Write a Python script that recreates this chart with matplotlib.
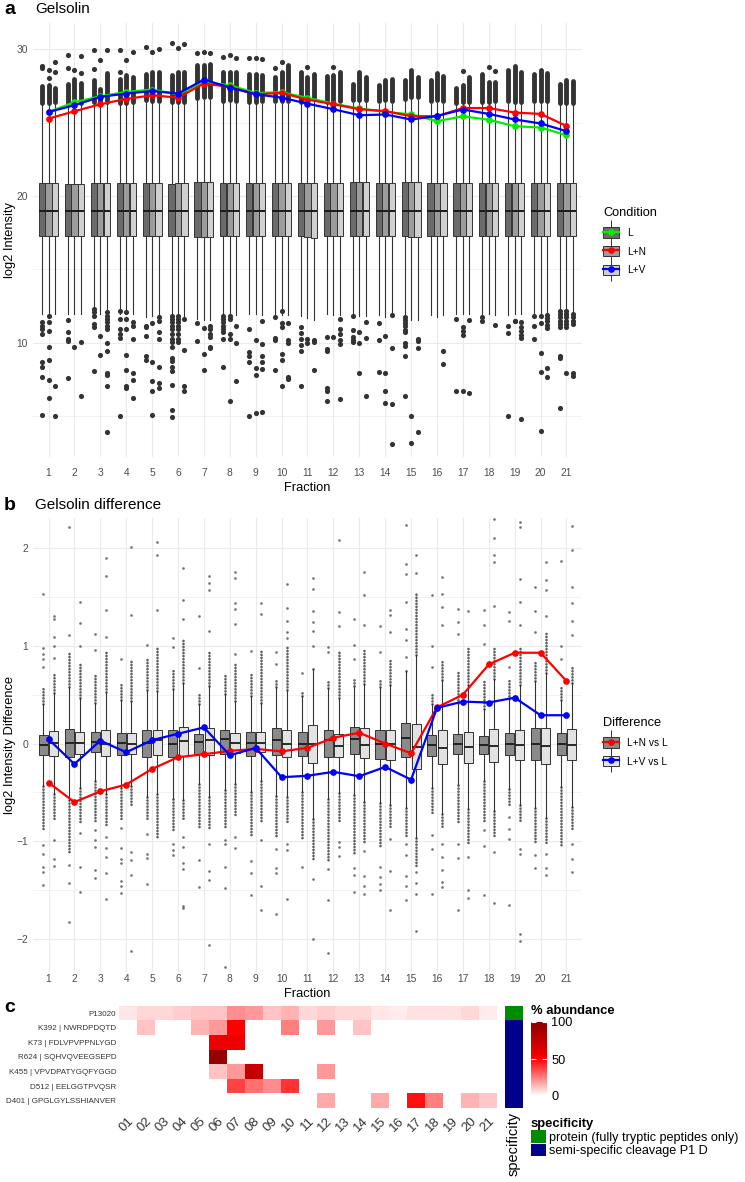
import numpy as np
import matplotlib
matplotlib.use("Agg")
import matplotlib.pyplot as plt
from matplotlib.patches import Rectangle, Patch
from matplotlib.lines import Line2D
from matplotlib.colors import LinearSegmentedColormap, ListedColormap
from matplotlib.legend_handler import HandlerTuple

plt.rcParams['font.family'] = ['Liberation Sans', 'DejaVu Sans']

# -----------------------------
# DATA  panel a (log2 intensity)
# -----------------------------
fractions = list(range(1, 22))
conditions = ["L", "L+N", "L+V"]

a_q1_L = [17.3, 17.3, 17.3, 17.3, 17.25, 17.25, 17.2, 17.25, 17.3, 17.3, 17.25, 17.3, 17.3, 17.3, 17.25, 17.3, 17.3, 17.3, 17.3, 17.3, 17.3]
a_q1_N = [17.3, 17.3, 17.3, 17.3, 17.25, 17.25, 17.2, 17.25, 17.3, 17.3, 17.2, 17.3, 17.3, 17.25, 17.2, 17.25, 17.3, 17.3, 17.3, 17.3, 17.3]
a_q1_V = [17.3, 17.3, 17.3, 17.3, 17.3, 17.25, 17.2, 17.3, 17.3, 17.3, 17.15, 17.3, 17.3, 17.3, 17.2, 17.3, 17.3, 17.3, 17.3, 17.3, 17.3]
a_med = [19.0] * 21
a_q3_L = [20.86, 20.85, 20.88, 20.86, 20.9, 20.85, 20.93, 20.88, 20.88, 20.9, 20.86, 20.88, 20.93, 20.9, 20.93, 20.9, 20.86, 20.88, 20.9, 20.9, 20.86]
a_q3_N = [20.86, 20.85, 20.88, 20.86, 20.88, 20.86, 20.95, 20.9, 20.88, 20.9, 20.88, 20.9, 20.95, 20.9, 20.97, 20.9, 20.88, 20.88, 20.88, 20.92, 20.86]
a_q3_V = [20.88, 20.85, 20.88, 20.88, 20.9, 20.86, 20.95, 20.9, 20.9, 20.9, 20.9, 20.9, 20.95, 20.9, 20.95, 20.9, 20.88, 20.9, 20.88, 20.92, 20.86]

# top of the dense column of high outliers
a_top_L = [27.48, 27.67, 27.89, 28.0, 28.34, 28.23, 28.91, 28.46, 28.34, 28.12, 28.46, 28.16, 27.67, 27.55, 27.89, 27.89, 27.4, 28.3, 28.62, 28.34, 27.62]
a_top_N = [27.55, 28.0, 27.33, 28.23, 28.46, 28.46, 28.91, 28.46, 28.34, 28.46, 28.12, 28.23, 28.46, 27.89, 28.57, 28.39, 27.55, 27.78, 28.9, 28.62, 27.94]
a_top_V = [27.4, 27.71, 28.39, 28.12, 28.46, 28.46, 29.03, 28.46, 28.23, 28.91, 28.34, 28.46, 28.12, 27.96, 28.12, 28.16, 28.12, 27.78, 28.46, 28.39, 27.85]

a_hi_L = [[28.9, 28.75], [29.59, 28.73], [29.93, 28.69], [29.96, 28.46], [30.14], [30.41], [29.75], [29.48], [29.41], [28.73],
          [], [], [], [], [], [], [], [], [], [], []]
a_hi_N = [[28.57, 28.05], [28.57], [29.3], [29.3], [29.82], [30.07], [29.82], [29.59], [29.41], [29.14],
          [28.8], [28.8], [], [], [], [], [28.5], [28.8], [], [], []]
a_hi_V = [[29.14, 28.46], [29.52, 28.39], [29.96], [29.82], [30.03], [30.37], [29.78], [29.41], [29.37], [],
          [], [], [], [], [], [], [], [28.5], [], [], []]

a_lo_L = [[11.38, 11.16, 10.93, 10.59, 8.71, 8.32, 7.64, 5.08],
          [11.56, 10.75, 10.25, 10.14, 7.57],
          [12.29, 12.06, 11.84, 11.27, 11.09, 8.05],
          [12.18, 11.61, 10.93, 10.59, 10.29, 5.03],
          [11.16, 11.04, 10.48, 9.12, 8.82],
          [11.84, 11.61, 11.38, 11.16, 10.93, 10.59, 10.25, 10.02, 9.68, 8.96, 8.78, 8.32, 8.05, 7.14, 5.42, 4.92],
          [11.32, 10.14],
          [11.84, 11.61, 11.38, 11.16, 10.93, 10.7, 10.25, 8.37],
          [10.93, 9.34, 9.12, 8.66, 4.97],
          [11.72, 10.29, 10.18, 8.14],
          [11.09, 10.63, 10.25, 9.84, 9.41, 7.01],
          [10.41, 9.57, 9.41, 6.92, 6.73, 6.05],
          [11.84, 10.86, 10.36, 10.18, 10.07],
          [11.32, 10.2, 7.98],
          [11.72, 11.54, 11.34, 11.16, 10.88, 10.7, 9.95, 9.8, 9.07, 6.39],
          [],
          [11.61, 6.73],
          [11.72, 11.5],
          [11.11, 10.63, 4.99],
          [11.79, 11.11, 10.25],
          [12.18, 11.95, 11.72, 11.5, 11.27, 11.04, 9.07, 8.96, 5.53]]
a_lo_N = [[11.84, 11.38, 10.77, 9.68, 8.82, 7.46, 6.24],
          [9.73],
          [10.48, 9.18],
          [12.06, 11.61, 10.93, 9.18, 8.16, 7.07, 6.92],
          [11.32, 8.66, 7.37, 6.69, 5.08],
          [11.84, 11.61, 11.38, 11.16, 10.93, 10.59, 10.25, 10.02],
          [11.0, 9.23, 8.16],
          [11.84, 11.61, 10.59, 10.25, 6.05],
          [10.18, 8.28, 7.82, 5.19],
          [12.18, 11.32, 11.09, 9.23, 8.82, 7.01],
          [10.25, 9.95],
          [10.41],
          [10.7, 9.95, 7.91],
          [10.48, 7.91, 6.73, 5.9],
          [5.03, 3.15],
          [],
          [11.04, 10.77, 10.52, 6.73],
          [],
          [11.5, 11.45],
          [11.79, 11.32, 9.3, 7.98, 3.95],
          [12.18, 11.95, 11.72, 11.5, 11.27, 11.04, 7.91]]
a_lo_V = [[7.07, 5.03],
          [10.07, 6.35],
          [12.06, 11.84, 11.61, 11.38, 11.16, 10.93, 9.95, 9.41, 7.91, 7.82, 7.07, 3.92],
          [11.38, 11.16, 10.25, 7.91, 7.46, 6.24],
          [11.77, 11.5, 10.7, 10.25, 8.37, 7.23, 6.92],
          [11.61, 9.5, 7.07, 6.69],
          [11.16, 10.93, 10.59, 10.36, 9.73, 9.64],
          [11.16, 9.95, 7.41],
          [11.5, 9.91, 9.12, 8.66, 8.21, 5.26],
          [11.32, 10.18, 9.95, 7.64, 7.53],
          [10.18, 10.02, 8.1],
          [11.61, 10.93, 10.59, 10.18, 9.91, 6.17],
          [11.38, 10.29, 6.39],
          [11.9, 9.61, 5.83, 3.11],
          [10.25, 10.14, 9.61, 3.92],
          [9.43, 8.55],
          [11.54, 6.55],
          [11.22],
          [11.38, 11.04, 10.77, 10.54, 10.32, 4.81],
          [11.9, 11.68, 11.45, 11.22, 11.0, 8.25, 7.69],
          [11.95, 11.72, 11.5, 11.27, 7.91, 7.75]]

# summary lines (panel a)
line_L = [25.73, 26.4, 26.8, 27.1, 27.26, 26.94, 27.78, 27.55, 27.03, 27.08, 26.69, 26.3, 25.97, 25.73, 25.58, 25.1, 25.44, 25.2, 24.76, 24.67, 24.15]
line_N = [25.28, 25.78, 26.26, 26.62, 26.87, 26.71, 27.67, 27.44, 26.94, 27.03, 26.58, 26.26, 25.92, 25.8, 25.44, 25.44, 26.0, 26.0, 25.69, 25.6, 24.78]
line_V = [25.73, 26.19, 26.76, 26.99, 27.16, 26.99, 27.94, 27.4, 26.94, 26.71, 26.3, 25.92, 25.51, 25.56, 25.22, 25.46, 25.9, 25.6, 25.22, 24.95, 24.42]

# -----------------------------
# DATA  panel b (log2 difference)
# -----------------------------
differences = ["L+N vs L", "L+V vs L"]

b_q1_N = [-0.12, -0.143, -0.085, -0.116, -0.137, -0.143, -0.11, -0.11, -0.13, -0.12, -0.126, -0.143, -0.11, -0.16, -0.137, -0.13, -0.11, -0.11, -0.12, -0.17, -0.113]
b_med_N = [-0.01, 0.007, 0.017, 0.01, 0.01, 0.0, 0.017, 0.044, 0.007, 0.034, 0.0, 0.034, 0.05, 0.0, 0.058, -0.01, 0.0, -0.01, -0.007, 0.0, -0.007]
b_q3_N = [0.09, 0.147, 0.116, 0.11, 0.137, 0.137, 0.096, 0.137, 0.116, 0.16, 0.12, 0.143, 0.17, 0.137, 0.215, 0.085, 0.10, 0.075, 0.11, 0.154, 0.11]
b_q1_V = [-0.13, -0.11, -0.123, -0.11, -0.12, -0.13, -0.12, -0.10, -0.085, -0.137, -0.195, -0.143, -0.147, -0.164, -0.263, -0.205, -0.195, -0.188, -0.17, -0.205, -0.17]
b_med_V = [0.007, 0.007, -0.007, -0.007, 0.034, 0.027, 0.034, 0.01, 0.007, 0.0, 0.0, -0.024, -0.01, 0.0, -0.034, -0.044, -0.04, -0.024, -0.017, -0.024, -0.017]
b_q3_V = [0.13, 0.12, 0.137, 0.11, 0.143, 0.17, 0.164, 0.113, 0.116, 0.137, 0.188, 0.10, 0.154, 0.143, 0.205, 0.137, 0.123, 0.15, 0.137, 0.164, 0.147]

b_top_N = [0.59, 0.94, 0.70, 0.63, 0.87, 0.77, 0.51, 0.70, 0.73, 0.66, 0.53, 0.66, 0.66, 0.66, 0.77, 0.53, 0.73, 0.66, 0.66, 0.83, 0.59]
b_top_V = [0.73, 0.82, 0.95, 0.87, 1.0, 1.06, 0.94, 0.83, 0.97, 1.0, 0.77, 0.94, 0.97, 0.87, 1.55, 0.87, 1.0, 1.0, 1.0, 1.14, 0.8]
b_hi_N = [[0.78, 0.87, 0.92, 0.98, 1.53], [1.11, 2.22], [0.96, 1.12], [0.87], [1.01], [0.99, 1.08], [0.77, 1.31],
          [], [0.95], [0.81, 0.94], [0.72], [0.94, 0.99], [0.87, 1.01, 1.28], [0.94, 1.2],
          [0.89, 1.06, 1.17, 1.45, 1.74, 1.84, 2.24], [0.78, 1.0, 1.52], [1.12, 1.24, 1.38], [1.02, 1.21, 1.37],
          [0.78, 1.26, 1.35], [1.14, 1.36, 1.6], [0.87, 1.0, 1.87]]
b_hi_V = [[0.88, 1.0, 1.09, 1.28, 1.31], [1.0, 1.23, 1.45], [1.09, 1.37, 1.72, 1.9], [1.32, 2.01], [1.37, 1.93, 2.06],
          [1.28, 1.47, 1.8], [1.15, 1.57, 1.64, 1.72], [0.92, 1.22, 1.38, 1.44, 1.7, 1.76], [1.33, 1.44],
          [1.08, 1.14, 1.26, 1.39, 1.63], [1.0, 1.15, 1.24, 1.36, 1.58, 1.7], [1.2, 1.35, 2.08], [1.21, 1.52, 1.76],
          [1.14, 1.32, 1.37], [1.75, 1.93], [1.21, 1.4, 1.53, 1.71], [1.36], [1.41, 1.86, 1.93, 2.11, 2.3],
          [1.21, 1.45, 1.69, 2.22, 2.27], [1.31, 1.57, 1.67, 1.86], [1.11, 1.26, 1.44, 1.6, 1.98, 2.23]]

b_bot_N = [-0.89, -1.13, -0.79, -0.79, -0.79, -0.89, -0.85, -0.85, -0.96, -0.96, -0.99, -1.2, -1.13, -1.06, -0.96, -0.72, -0.82, -0.79, -0.65, -1.03, -1.06]
b_bot_V = [-0.79, -0.82, -0.85, -0.65, -0.96, -0.79, -0.89, -0.75, -0.79, -0.82, -1.2, -0.79, -1.03, -0.85, -1.26, -0.87, -1.03, -0.96, -0.79, -1.03, -0.89]
b_lo_N = [[-1.04, -1.13, -1.26, -1.32, -1.45], [-1.24, -1.43, -1.83], [-0.89, -0.99, -1.06, -1.3, -1.38],
          [-0.86, -1.07, -1.18, -1.22, -1.41, -1.46, -1.53], [-0.93, -1.13, -1.17, -1.44], [-1.03, -1.09, -1.14],
          [-1.19, -1.47], [-0.99, -1.03, -1.26, -1.48, -2.29], [-1.2, -1.33, -1.55], [-1.08, -1.27, -1.33, -1.75],
          [-1.26], [-1.28, -1.6, -2.15], [-1.27, -1.35, -1.52], [-1.26, -1.37, -1.44, -1.5],
          [-1.03, -1.14, -1.36, -1.46, -1.6], [-0.94, -1.08, -1.54], [-1.03, -1.17, -1.7], [-0.89, -1.05, -1.55],
          [-0.75, -0.88, -0.98, -1.65], [-1.14, -1.27], []]
b_lo_V = [[-0.99, -1.18, -1.25], [-0.92, -1.26, -1.52], [-0.96, -1.07, -1.16, -1.33, -1.59], [-1.11, -1.19, -1.35, -2.12],
          [], [-0.96, -1.06, -1.22, -1.28, -1.66, -1.68], [-1.03, -1.31, -1.4, -2.06], [-0.96, -1.07],
          [-0.99, -1.46, -1.71], [-1.03, -1.09, -1.59], [-1.39, -2.0], [-1.01, -1.06, -1.15],
          [-1.1, -1.36, -1.46, -1.54], [-0.98, -1.31, -1.7], [-1.32, -1.43, -1.54, -1.92],
          [-1.03, -1.16, -1.3, -1.42, -1.47], [-1.16, -1.5, -1.58], [-1.11, -1.63], [-1.08, -1.13, -1.95, -2.02],
          [-1.13, -1.27, -1.35], [-1.03, -1.18, -1.32]]

diff_N = [-0.40, -0.60, -0.49, -0.42, -0.26, -0.14, -0.11, -0.075, -0.055, -0.08, -0.045, 0.06, 0.11, 0.0, -0.10, 0.37, 0.50, 0.81, 0.93, 0.93, 0.64]
diff_V = [0.045, -0.21, 0.03, -0.09, 0.035, 0.10, 0.165, -0.12, -0.045, -0.345, -0.33, -0.29, -0.335, -0.24, -0.37, 0.365, 0.43, 0.42, 0.47, 0.29, 0.29]

# -----------------------------
# DATA  panel c (heatmap)
# -----------------------------
hm_rows = ["P13020", "K392 | NWRDPDQTD", "K73 | FDLVPVPPNLYGD", "R624 | SQHVQVEEGSEPD",
           "K455 | VPVDPATYGQFYGGD", "D512 | EELGGTPVQSR", "D401 | GPGLGYLSSHIANVER"]
hm_cols = ["01", "02", "03", "04", "05", "06", "07", "08", "09", "10", "11",
           "12", "13", "14", "15", "16", "17", "18", "19", "20", "21"]
nan = np.nan
ab_P13020 = [5, 8, 8, 10, 12, 12, 22, 20, 12, 15, 8, 10, 8, 8, 5, 4, 6, 6, 6, 8, 4]
ab_K392 = [nan, 12, nan, nan, 15, 20, 50, nan, nan, 25, nan, 20, nan, 12, nan, nan, nan, nan, nan, nan, nan]
ab_K73 = [nan, nan, nan, nan, nan, 58, 58, nan, nan, nan, nan, nan, nan, nan, nan, nan, nan, nan, nan, nan, nan]
ab_R624 = [nan, nan, nan, nan, nan, 95, nan, nan, nan, nan, nan, nan, nan, nan, nan, nan, nan, nan, nan, nan, nan]
ab_K455 = [nan, nan, nan, nan, nan, 12, 20, 75, nan, nan, nan, 20, nan, nan, nan, nan, nan, nan, nan, nan, nan]
ab_D512 = [nan, nan, nan, nan, nan, nan, 37, 28, 23, 40, nan, nan, nan, nan, nan, nan, nan, nan, nan, nan, nan]
ab_D401 = [nan, nan, nan, nan, nan, nan, nan, nan, nan, nan, nan, 17, nan, nan, 17, nan, 47, 25, nan, 15, 11]
spec_rows = [0, 1, 1, 1, 1, 1, 1]
spec_labels = ["protein (fully tryptic peptides only)", "semi-specific cleavage P1 D"]

# -----------------------------
# FIGURE
# -----------------------------
W, H = 745, 1182
fig = plt.figure(figsize=(W / 100, H / 100), dpi=100)


def px_axes(l, t, r, b):
    return fig.add_axes([l / W, 1 - b / H, (r - l) / W, (b - t) / H])


def fy(y):
    return 1 - y / H


TICK_C = "#4D4D4D"
GRID_C = "#EBEBEB"
EDGE_C = "#333333"


def style_axes(ax, yticks, yminor, xpad):
    for s in ax.spines.values():
        s.set_visible(False)
    ax.set_xlim(0.4, 21.6)
    ax.set_xticks(fractions)
    ax.set_xticklabels([str(f) for f in fractions])
    ax.set_yticks(yticks)
    ax.set_yticks(yminor, minor=True)
    ax.grid(which="major", color=GRID_C, lw=0.85)
    ax.grid(which="minor", axis="y", color=GRID_C, lw=0.45)
    ax.set_axisbelow(True)
    ax.tick_params(which="both", length=0, labelsize=7.4, labelcolor=TICK_C)
    ax.tick_params(axis="x", pad=xpad)
    ax.tick_params(axis="y", pad=3.5)
    ax.set_xlabel("Fraction", fontsize=9.3, labelpad=2.5)


def boxstats(q1, med, q3):
    iqr = q3 - q1
    return dict(q1=q1, med=med, q3=q3, whislo=q1 - 1.5 * iqr, whishi=q3 + 1.5 * iqr, fliers=[])


# ---- panel a ----
ax_a = px_axes(33, 23, 582, 457)
style_axes(ax_a, [10, 20, 30], [5, 15, 25], 8)
ax_a.set_ylim(2.2, 31.8)
ax_a.set_ylabel("log2 Intensity", fontsize=9.3)
ax_a.yaxis.set_label_coords(-17 / 549, 0.5)

a_fill = ["#6b6b6b", "#9c9c9c", "#d0d0d0"]
a_off = [-0.25, 0.0, 0.25]
a_q1 = [a_q1_L, a_q1_N, a_q1_V]
a_q3 = [a_q3_L, a_q3_N, a_q3_V]
a_top = [a_top_L, a_top_N, a_top_V]
a_hi = [a_hi_L, a_hi_N, a_hi_V]
a_lo = [a_lo_L, a_lo_N, a_lo_V]

for k in range(3):
    stats = [boxstats(a_q1[k][i], a_med[i], a_q3[k][i]) for i in range(21)]
    pos = [f + a_off[k] for f in fractions]
    ax_a.bxp(stats, positions=pos, widths=0.24, showfliers=False, showcaps=False, patch_artist=True,
             boxprops=dict(facecolor=a_fill[k], edgecolor=EDGE_C, lw=0.7),
             whiskerprops=dict(color=EDGE_C, lw=0.8),
             medianprops=dict(color="#1a1a1a", lw=1.4), manage_ticks=False)
    for i in range(21):
        x = pos[i]
        ax_a.plot([x, x], [stats[i]["whishi"] + 0.15, a_top[k][i]], color=EDGE_C, lw=3.5,
                  solid_capstyle="round", zorder=3)
        if a_hi[k][i]:
            ax_a.plot([x] * len(a_hi[k][i]), a_hi[k][i], "o", ms=3.7, color=EDGE_C, mec="none", zorder=3)
        if a_lo[k][i]:
            ax_a.plot([x] * len(a_lo[k][i]), a_lo[k][i], "o", ms=3.7, color=EDGE_C, mec="none", zorder=3)

a_line_colors = ["#00EE00", "#FF0000", "#0000FF"]
for vals, c in zip([line_L, line_N, line_V], a_line_colors):
    ax_a.plot(fractions, vals, "-o", color=c, lw=1.6, ms=3.8, zorder=5)

# ---- panel b ----
ax_b = px_axes(33, 518, 582, 972)
style_axes(ax_b, [-2, -1, 0, 1, 2], [-1.5, -0.5, 0.5, 1.5], 1.5)
ax_b.set_ylim(-2.34, 2.31)
ax_b.set_ylabel("log2 Intensity Difference", fontsize=9.3)
ax_b.yaxis.set_label_coords(-17 / 549, 0.5)

b_fill = ["#8a8a8a", "#e2e2e2"]
b_off = [-0.2, 0.2]
b_q1 = [b_q1_N, b_q1_V]
b_med = [b_med_N, b_med_V]
b_q3 = [b_q3_N, b_q3_V]
b_top = [b_top_N, b_top_V]
b_bot = [b_bot_N, b_bot_V]
b_hi = [b_hi_N, b_hi_V]
b_lo = [b_lo_N, b_lo_V]
PT_C = "#4f4f4f"

for k in range(2):
    stats = [boxstats(b_q1[k][i], b_med[k][i], b_q3[k][i]) for i in range(21)]
    pos = [f + b_off[k] for f in fractions]
    for i in range(21):
        x = pos[i]
        ax_b.plot([x, x], [stats[i]["whishi"], b_top[k][i]], color=PT_C, lw=1.9, alpha=0.9,
                  linestyle=(0, (0.05, 1.1)), dash_capstyle="round", zorder=1.5)
        ax_b.plot([x, x], [stats[i]["whislo"], b_bot[k][i]], color=PT_C, lw=1.9, alpha=0.9,
                  linestyle=(0, (0.05, 1.1)), dash_capstyle="round", zorder=1.5)
        pts = b_hi[k][i] + b_lo[k][i]
        if pts:
            ax_b.plot([x] * len(pts), pts, "o", ms=1.9, color=PT_C, alpha=0.8, mec="none", zorder=1.5)
    ax_b.bxp(stats, positions=pos, widths=0.35, showfliers=False, showcaps=False, patch_artist=True,
             boxprops=dict(facecolor=b_fill[k], edgecolor=EDGE_C, lw=0.7),
             whiskerprops=dict(color=EDGE_C, lw=0.8),
             medianprops=dict(color="#1a1a1a", lw=1.3), manage_ticks=False)

b_line_colors = ["#FF0000", "#0000FF"]
for vals, c in zip([diff_N, diff_V], b_line_colors):
    ax_b.plot(fractions, vals, "-o", color=c, lw=1.6, ms=3.8, zorder=5)

# ---- legends a / b ----
def box_handles(fills, colors):
    hs = []
    for fc, c in zip(fills, colors):
        hs.append((Line2D([], [], color=EDGE_C, marker="|", ms=17, mew=0.7, linestyle="none"),
                   Rectangle((0, 0), 1, 1, facecolor=fc, edgecolor=EDGE_C, lw=0.7),
                   Line2D([], [], color=c, lw=1.6, marker="o", ms=3.8)))
    return hs

leg_kw = dict(loc="upper left", frameon=False, handler_map={tuple: HandlerTuple(ndivide=1, pad=0)},
              fontsize=7.3, title_fontsize=9.2, handlelength=1.6, handleheight=1.2, labelspacing=0.8,
              handletextpad=0.8, alignment="left")
leg_a = fig.legend(box_handles(a_fill, a_line_colors), conditions, title="Condition",
                   bbox_to_anchor=(594 / W, fy(198)), **leg_kw)
leg_b = fig.legend(box_handles(b_fill, b_line_colors), differences, title="Difference",
                   bbox_to_anchor=(594 / W, fy(708)), **leg_kw)

# ---- titles ----
fig.text(4 / W, fy(9), "a", fontsize=14, fontweight="bold", va="center", ha="left")
fig.text(35 / W, fy(9), "Gelsolin", fontsize=11, va="center", ha="left")
fig.text(4 / W, fy(505), "b", fontsize=14, fontweight="bold", va="center", ha="left")
fig.text(35 / W, fy(505), "Gelsolin difference", fontsize=11, va="center", ha="left")
fig.text(4 / W, fy(1007), "c", fontsize=14, fontweight="bold", va="center", ha="left")

# ---- panel c ----
ax_c = px_axes(119, 1005.7, 497, 1108)
hm = np.ma.masked_invalid(np.array([ab_P13020, ab_K392, ab_K73, ab_R624, ab_K455, ab_D512, ab_D401], dtype=float))
cmap = LinearSegmentedColormap.from_list("abund", [(0, "white"), (0.5, "red"), (1.0, "darkred")])
cmap.set_bad("white")
mesh = ax_c.pcolormesh(np.arange(22), np.arange(8), hm, cmap=cmap, vmin=0, vmax=100)
ax_c.set_xlim(0, 21)
ax_c.set_ylim(7, 0)
ax_c.set_yticks(np.arange(7) + 0.5)
ax_c.set_yticklabels(hm_rows, fontsize=5.8, color="#333333")
ax_c.set_xticks(np.arange(21) + 0.5)
ax_c.set_xticklabels(hm_cols, fontsize=9.5, color="#333333", rotation=45, ha="right", va="top",
                     rotation_mode="anchor")
ax_c.tick_params(length=0, pad=2)
ax_c.tick_params(axis="x", pad=5)
for s in ax_c.spines.values():
    s.set_visible(False)

ax_s = px_axes(505, 1005.7, 523, 1108)
spec_cmap = ListedColormap(["#008B00", "#00008B"])
ax_s.pcolormesh(np.arange(2), np.arange(8), np.array(spec_rows).reshape(-1, 1), cmap=spec_cmap, vmin=0, vmax=1)
ax_s.set_ylim(7, 0)
ax_s.set_xticks([])
ax_s.set_yticks([])
for s in ax_s.spines.values():
    s.set_visible(False)
fig.text(514 / W, fy(1112), "specificity", rotation=90, fontsize=10.5, ha="center", va="top")

cax = px_axes(531, 1022, 547, 1096)
cb = fig.colorbar(mesh, cax=cax, ticks=[0, 50, 100])
cb.outline.set_visible(False)
cax.tick_params(which="both", left=True, right=True, labelleft=False, labelright=True,
                color="white", direction="in", length=3.5, width=0.8, labelsize=9.2, pad=3)
fig.text(531 / W, fy(1011), "% abundance", fontsize=9.4, fontweight="bold", ha="left", va="center")

spec_handles = [Patch(facecolor="#008B00", edgecolor="none"), Patch(facecolor="#00008B", edgecolor="none")]
leg_c = fig.legend(spec_handles, spec_labels, title="specificity", loc="upper left",
                   bbox_to_anchor=(531 / W, fy(1118)), frameon=False, fontsize=9.1,
                   title_fontproperties={"weight": "bold", "size": 9.4}, handlelength=1.15,
                   handleheight=1.15, labelspacing=0.0, handletextpad=0.3, alignment="left",
                   borderaxespad=0.0, borderpad=0.0)

fig.savefig("out.png", dpi=100)
